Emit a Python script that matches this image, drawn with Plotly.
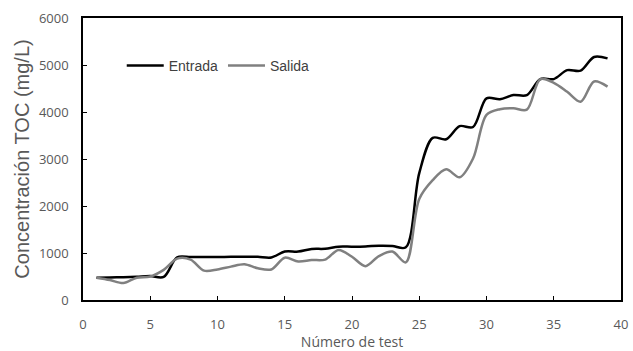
import plotly.graph_objects as go

test = list(range(1, 40))
entrada = [475, 480, 485, 495, 510, 490, 910, 915, 915, 915, 920, 920, 920, 905, 1030, 1030, 1085, 1090, 1135, 1135,
           1140, 1155, 1150, 1120, 2700, 3450, 3420, 3700, 3680, 4290, 4270, 4360, 4360, 4700, 4700, 4890, 4880, 5170, 5140]
salida = [475, 425, 360, 475, 500, 640, 880, 860, 625, 650, 710, 760, 675, 650, 900, 820, 850, 860, 1065, 920,
          720, 935, 1030, 800, 2150, 2550, 2780, 2610, 3010, 3940, 4060, 4080, 4050, 4700, 4620, 4430, 4220, 4650, 4540]

x_ticks = [0, 5, 10, 15, 20, 25, 30, 35, 40]
y_ticks = [0, 1000, 2000, 3000, 4000, 5000, 6000]

fig = go.Figure()
fig.add_trace(go.Scatter(x=test, y=entrada, name="Entrada", mode="lines",
                         line=dict(color="#000000", width=2.5, shape="spline", smoothing=0.9)))
fig.add_trace(go.Scatter(x=test, y=salida, name="Salida", mode="lines",
                         line=dict(color="#808080", width=2.5, shape="spline", smoothing=0.9)))

tick_font = dict(family="Open Sans, Liberation Sans, sans-serif", size=13, color="#595959")
fig.update_layout(
    width=633, height=351,
    margin=dict(l=83, r=12, t=18, b=51),
    plot_bgcolor="white", paper_bgcolor="white",
    showlegend=True,
    legend=dict(orientation="h", x=0.072, y=0.83, xanchor="left", yanchor="middle",
                bgcolor="rgba(0,0,0,0)", font=dict(family="Liberation Sans, Arial, sans-serif", size=14, color="#404040"),
                itemwidth=37, tracegroupgap=0),
    xaxis=dict(range=[0, 40], tickvals=x_ticks, ticks="inside", ticklen=4, tickcolor="#000",
               showline=True, mirror=True, linecolor="#000", linewidth=1.5, showgrid=False, zeroline=False,
               tickfont=tick_font, automargin=False, ticklabelstandoff=12,
               title=dict(text="Número de test", font=dict(family="Open Sans, sans-serif", size=14, color="#595959"), standoff=5)),
    yaxis=dict(range=[0, 6000], tickvals=y_ticks, ticks="inside", ticklen=4, tickcolor="#000",
               showline=True, mirror=True, linecolor="#000", linewidth=1.5, showgrid=False, zeroline=False,
               tickfont=tick_font, automargin=False, ticklabelstandoff=10,
               title=dict(text="Concentración TOC (mg/L)", font=dict(family="Liberation Sans, Arial, sans-serif", size=20, color="#595959"), standoff=4)),
)
fig.write_html("out.html")
